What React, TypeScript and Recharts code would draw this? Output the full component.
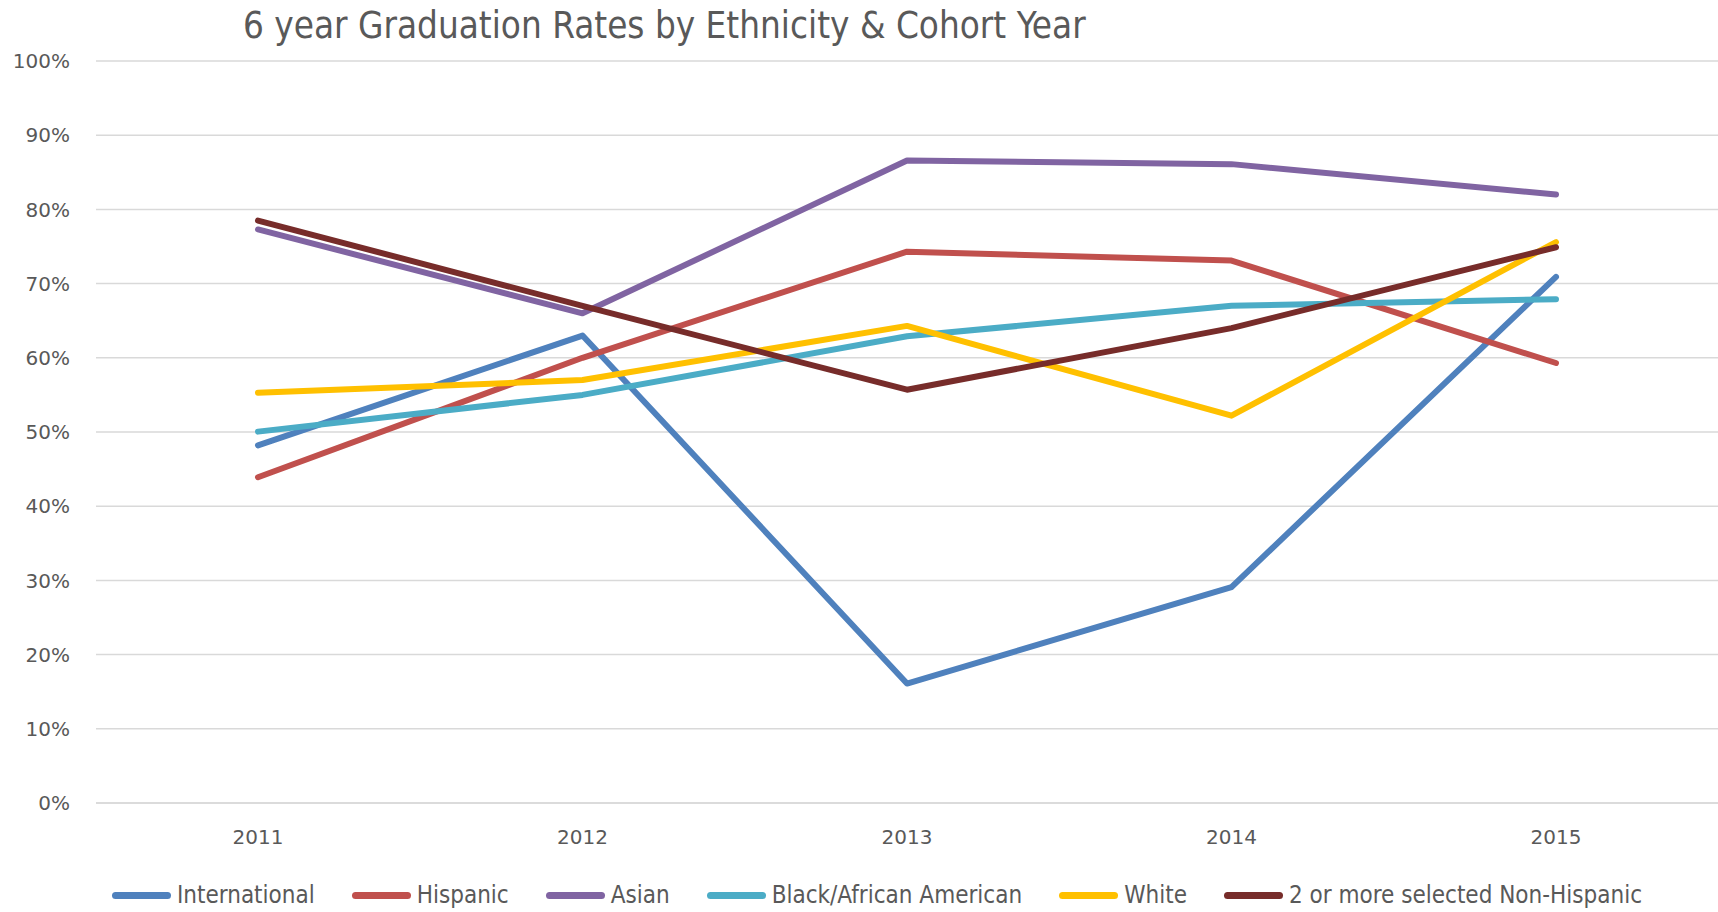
import { LineChart, Line, XAxis, YAxis, CartesianGrid } from "recharts";

const years = ["2011", "2012", "2013", "2014", "2015"];
const international = [48.2, 63.0, 16.1, 29.1, 70.9];
const hispanic = [43.9, 60.0, 74.3, 73.1, 59.3];
const asian = [77.3, 66.0, 86.6, 86.1, 82.0];
const black = [50.05, 55.0, 62.9, 67.0, 67.9];
const white = [55.3, 57.0, 64.3, 52.2, 75.6];
const twoOrMore = [78.5, 67.0, 55.7, 64.0, 74.9];
const yTicks = [0, 10, 20, 30, 40, 50, 60, 70, 80, 90, 100];

const series = [
  { key: "international", name: "International", color: "#4F81BD", values: international },
  { key: "hispanic", name: "Hispanic", color: "#C0504D", values: hispanic },
  { key: "asian", name: "Asian", color: "#8064A2", values: asian },
  { key: "black", name: "Black/African American", color: "#4BACC6", values: black },
  { key: "white", name: "White", color: "#FFC000", values: white },
  { key: "twoOrMore", name: "2 or more selected Non-Hispanic", color: "#772C2A", values: twoOrMore },
];

const data = years.map((year, i) => {
  const row: Record<string, string | number> = { year };
  series.forEach((s) => {
    row[s.key] = s.values[i];
  });
  return row;
});

const textColor = "#595959";
const narrowFont = "'DejaVu Sans Condensed', 'Open Sans', sans-serif";
const tickFont = "'DejaVu Sans', Verdana, sans-serif";

export default function App() {
  return (
    <div style={{ position: "relative", width: 1718, height: 912, background: "#fff" }}>
      <style>{`body{margin:0}`}</style>
      <div
        style={{
          position: "absolute",
          left: 243,
          top: 4,
          fontFamily: narrowFont,
          fontSize: 36.5,
          color: textColor,
          whiteSpace: "nowrap",
        }}
      >
        6 year Graduation Rates by Ethnicity &amp; Cohort Year
      </div>
      <LineChart width={1718} height={912} data={data} margin={{ top: 61, right: 0, bottom: 69, left: 0 }}>
        <CartesianGrid vertical={false} stroke="#D9D9D9" strokeWidth={1.5} />
        <XAxis
          dataKey="year"
          height={40}
          padding={{ left: 162, right: 162 }}
          axisLine={{ stroke: "#D9D9D9", strokeWidth: 1.5 }}
          tickLine={false}
          tickMargin={21}
          tick={{ fill: textColor, fontFamily: tickFont, fontSize: 20 }}
        />
        <YAxis
          width={96}
          domain={[0, 100]}
          ticks={yTicks}
          interval={0}
          axisLine={false}
          tickLine={false}
          tickMargin={20}
          tickFormatter={(v: number) => `${v}%`}
          tick={{ fill: textColor, fontFamily: tickFont, fontSize: 20 }}
        />
        {series.map((s) => (
          <Line
            key={s.key}
            type="linear"
            dataKey={s.key}
            name={s.name}
            stroke={s.color}
            strokeWidth={6}
            strokeLinecap="round"
            strokeLinejoin="round"
            dot={false}
            activeDot={false}
            isAnimationActive={false}
          />
        ))}
      </LineChart>
      <div
        style={{
          position: "absolute",
          left: 0,
          width: 1718,
          top: 880,
          boxSizing: "border-box",
          display: "flex",
          justifyContent: "center",
          gap: 37,
          fontFamily: narrowFont,
          fontSize: 24,
          color: textColor,
          paddingLeft: 36,
        }}
      >
        {series.map((s) => (
          <div key={s.key} style={{ display: "flex", alignItems: "center", gap: 6 }}>
            <span
              style={{
                display: "inline-block",
                width: 59,
                height: 7,
                borderRadius: 3.5,
                background: s.color,
              }}
            />
            <span style={{ lineHeight: "30px" }}>{s.name}</span>
          </div>
        ))}
      </div>
    </div>
  );
}
